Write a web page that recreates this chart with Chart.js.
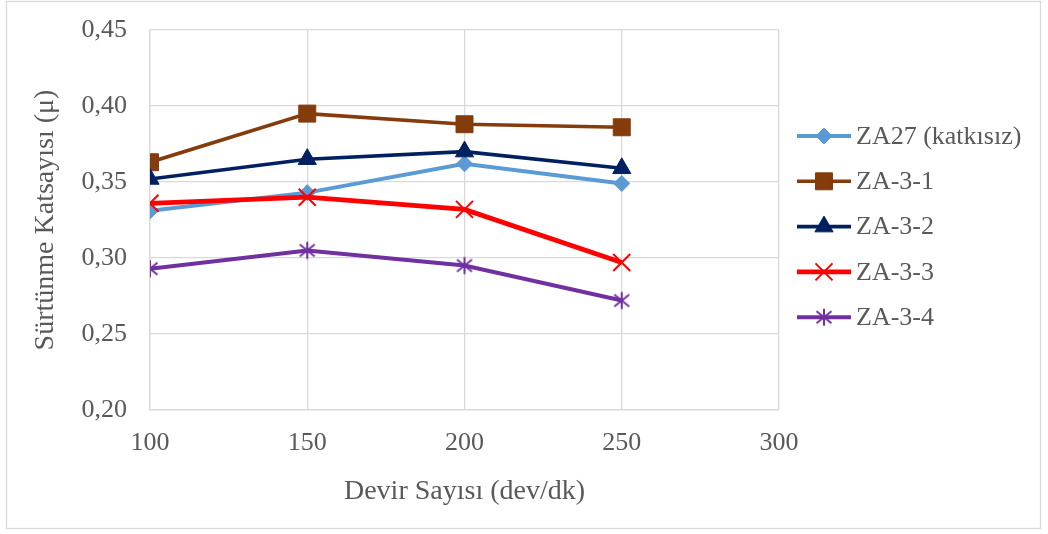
<!DOCTYPE html>
<html>
<head>
<meta charset="UTF-8">
<title>Sürtünme Katsayısı</title>
<script src="https://cdn.jsdelivr.net/npm/chart.js"></script>
<style>
    body { margin: 0; background: #fff; }
    #grafik { display: block; }
</style>
</head>
<body>
<canvas id="grafik" width="1048" height="534"></canvas>
<script>
    // Devir sayıları (dev/dk)
    const devir = [100, 150, 200, 250];

    // Sürtünme katsayıları
    const za27   = [0.331, 0.343, 0.362, 0.349];
    const za31   = [0.363, 0.395, 0.388, 0.386];
    const za32   = [0.352, 0.365, 0.370, 0.359];
    const za33   = [0.336, 0.340, 0.332, 0.297];
    const za34   = [0.293, 0.305, 0.295, 0.272];

    const seriAdlari = ['ZA27 (katkısız)', 'ZA-3-1', 'ZA-3-2', 'ZA-3-3', 'ZA-3-4'];
    const seriDegerleri = [za27, za31, za32, za33, za34];

    const xTicks = [100, 150, 200, 250, 300];
    const yTicks = [0.20, 0.25, 0.30, 0.35, 0.40, 0.45];

    const yaziRengi = '#595959';
    const izgaraRengi = '#d9d9d9';
    const yazi = "'Liberation Serif', 'Times New Roman', serif";

    // Yıldız işareti (dikey çizgi + çarpı)
    function yildiz(renk) {
        const c = document.createElement('canvas');
        c.width = 20; c.height = 20;
        const g = c.getContext('2d');
        g.strokeStyle = renk;
        g.lineWidth = 2;
        g.beginPath();
        g.moveTo(10, 1.5); g.lineTo(10, 18.5);
        g.moveTo(2.5, 4); g.lineTo(17.5, 16);
        g.moveTo(17.5, 4); g.lineTo(2.5, 16);
        g.stroke();
        return c;
    }

    const stiller = [
        { renk: '#5b9bd5', kalinlik: 4,   isaret: 'rectRot', yaricap: 8, cizgi: 1 },
        { renk: '#843c0c', kalinlik: 3.6, isaret: 'rect',    yaricap: 12, cizgi: 1 },
        { renk: '#002060', kalinlik: 3.6, isaret: 'triangle', yaricap: 10.5, cizgi: 1 },
        { renk: '#ff0000', kalinlik: 4.8, isaret: 'crossRot', yaricap: 12, cizgi: 2 },
        { renk: '#7030a0', kalinlik: 4,   isaret: yildiz('#7030a0'), yaricap: 9, cizgi: 1 }
    ];

    const veriSetleri = seriAdlari.map((ad, i) => ({
        label: ad,
        data: devir.map((d, j) => ({ x: d, y: seriDegerleri[i][j] })),
        borderColor: stiller[i].renk,
        backgroundColor: stiller[i].renk,
        borderWidth: stiller[i].kalinlik,
        pointStyle: stiller[i].isaret,
        pointRadius: stiller[i].yaricap,
        pointBorderWidth: stiller[i].cizgi,
        pointBorderColor: stiller[i].renk,
        pointBackgroundColor: stiller[i].renk,
        tension: 0,
        order: seriAdlari.length - 1 - i
    }));

    // Dış çerçeve
    const cerceve = {
        id: 'cerceve',
        beforeDraw(chart) {
            const ctx = chart.ctx;
            ctx.save();
            ctx.fillStyle = '#fff';
            ctx.fillRect(0, 0, chart.width, chart.height);
            ctx.strokeStyle = izgaraRengi;
            ctx.lineWidth = 1.3;
            ctx.strokeRect(6.5, 1.5, 1034, 527);
            ctx.restore();
        }
    };

    // Sağdaki gösterge: çizgi + işaret + ad
    const gosterge = {
        id: 'gosterge',
        afterDraw(chart) {
            const ctx = chart.ctx;
            const x0 = 797, x1 = 851, y0 = 136, aralik = 45.3;
            ctx.save();
            chart.data.datasets.forEach((ds, i) => {
                const y = y0 + i * aralik;
                ctx.strokeStyle = ds.borderColor;
                ctx.lineWidth = ds.borderWidth;
                ctx.beginPath();
                ctx.moveTo(x0, y);
                ctx.lineTo(x1, y);
                ctx.stroke();
                ctx.fillStyle = ds.pointBackgroundColor;
                ctx.strokeStyle = ds.pointBorderColor;
                ctx.lineWidth = ds.pointBorderWidth;
                Chart.helpers.drawPoint(ctx, {
                    pointStyle: ds.pointStyle,
                    radius: ds.pointRadius,
                    rotation: 0,
                    borderWidth: ds.pointBorderWidth
                }, (x0 + x1) / 2, y);
                ctx.fillStyle = yaziRengi;
                ctx.font = "26px " + yazi;
                ctx.textBaseline = 'middle';
                ctx.textAlign = 'left';
                ctx.fillText(ds.label, x1 + 5, y + 1);
            });
            ctx.restore();
        }
    };

    new Chart(document.getElementById('grafik'), {
        type: 'line',
        data: { datasets: veriSetleri },
        plugins: [cerceve, gosterge],
        options: {
            responsive: false,
            devicePixelRatio: 1,
            animation: false,
            events: [],
            layout: { padding: { left: 0, top: 30, right: 269, bottom: 0 } },
            plugins: {
                legend: { display: false },
                tooltip: { enabled: false }
            },
            scales: {
                x: {
                    type: 'linear',
                    min: 100,
                    max: 300,
                    afterBuildTicks: s => { s.ticks = xTicks.map(v => ({ value: v })); },
                    afterFit: s => { s.height = 124; },
                    grid: { color: izgaraRengi, lineWidth: 1.3, drawTicks: false },
                    border: { color: izgaraRengi, width: 1.3 },
                    ticks: {
                        color: yaziRengi,
                        font: { family: yazi, size: 26 },
                        padding: 18,
                        maxRotation: 0
                    },
                    title: {
                        display: true,
                        text: 'Devir Sayısı (dev/dk)',
                        color: yaziRengi,
                        font: { family: yazi, size: 28 },
                        padding: { top: 0, bottom: 26 }
                    }
                },
                y: {
                    min: 0.20,
                    max: 0.45,
                    afterBuildTicks: s => { s.ticks = yTicks.map(v => ({ value: v })); },
                    // eksen genişliği sabit, etiket taşması üst boşluğu büyütmesin
                    afterFit: s => { s.width = 150; s.paddingTop = 0; s.paddingBottom = 0; },
                    grid: { color: izgaraRengi, lineWidth: 1.3, drawTicks: false },
                    border: { color: izgaraRengi, width: 1.3 },
                    ticks: {
                        color: yaziRengi,
                        font: { family: yazi, size: 26 },
                        padding: 23,
                        callback: v => v.toFixed(2).replace('.', ',')
                    },
                    title: {
                        display: true,
                        text: 'Sürtünme Katsayısı (μ)',
                        color: yaziRengi,
                        font: { family: yazi, size: 28 },
                        padding: { top: 29, bottom: 0 }
                    }
                }
            }
        }
    });
</script>
</body>
</html>
